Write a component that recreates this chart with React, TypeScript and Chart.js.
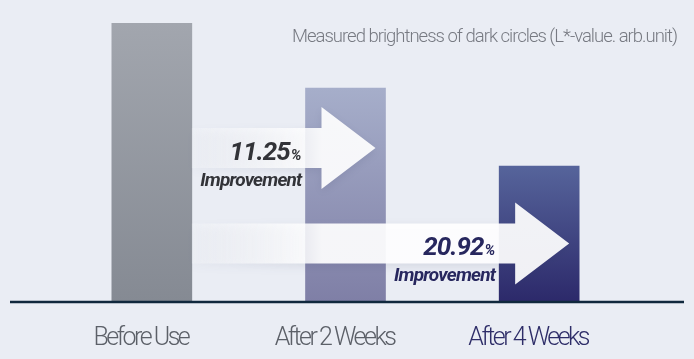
import React, { useEffect, useRef } from 'react';
import { Chart, registerables } from 'chart.js';

Chart.register(...registerables);

// ---- data ----
const categories = ['Before Use', 'After 2 Weeks', 'After 4 Weeks'];
const brightness = [100, 76.7, 48.7];
const improvementValues = ['11.25', '20.92'];
const improvementTargets = [1, 2];
const arrowLevels = [55.2, 21];
const improvementWord = 'Improvement';
const titleText = 'Measured brightness of dark circles (L*-value. arb.unit)';
const yMax = 100;

// ---- styles ----
const barTop = ['#a2a6ae', '#a6aeca', '#56649b'];
const barBottom = ['#858a93', '#7f7fa6', '#2c296a'];
const tickColors = ['#5c6068', '#5c6068', '#2e2d68'];
const numberColors = ['#323338', '#27275e'];
const bgColor = '#eaedf4';

const spacingPlugin = {
  id: 'tickSpacing',
  beforeDraw(chart: any) {
    chart.ctx.letterSpacing = '-2.5px';
  },
  beforeDatasetsDraw(chart: any) {
    chart.ctx.letterSpacing = '0px';
  },
};

const decorPlugin = {
  id: 'decor',
  afterDatasetsDraw(chart: any) {
    const ctx = chart.ctx as CanvasRenderingContext2D;
    const y = chart.scales.y;
    const meta = chart.getDatasetMeta(0);
    const base = y.getPixelForValue(0);

    // baseline
    ctx.save();
    ctx.strokeStyle = '#10283d';
    ctx.lineWidth = 2.5;
    ctx.beginPath();
    ctx.moveTo(10, base);
    ctx.lineTo(684, base);
    ctx.stroke();
    ctx.restore();

    const first = meta.data[0];
    const startX = first.x + first.width / 2;

    improvementValues.forEach((val, k) => {
      const tgt = meta.data[improvementTargets[k]];
      const headBase = tgt.x - tgt.width / 2 + 16;
      const tip = tgt.x + tgt.width / 2 - 10;
      const cy = y.getPixelForValue(arrowLevels[k]);
      const bh = 20;
      const hh = 41;

      ctx.save();
      const g = ctx.createLinearGradient(startX, 0, startX + 130, 0);
      g.addColorStop(0, 'rgba(255,255,255,0.2)');
      g.addColorStop(1, 'rgba(255,255,255,0.93)');
      ctx.fillStyle = g;
      ctx.shadowColor = 'rgba(40,50,90,0.12)';
      ctx.shadowBlur = 8;
      ctx.shadowOffsetY = 3;
      ctx.beginPath();
      ctx.moveTo(startX, cy - bh);
      ctx.lineTo(headBase, cy - bh);
      ctx.lineTo(headBase, cy - hh);
      ctx.lineTo(tip, cy);
      ctx.lineTo(headBase, cy + hh);
      ctx.lineTo(headBase, cy + bh);
      ctx.lineTo(startX, cy + bh);
      ctx.closePath();
      ctx.fill();
      ctx.restore();

      // texts
      const R = headBase - 20;
      ctx.save();
      ctx.fillStyle = numberColors[k];
      ctx.textAlign = 'right';
      ctx.textBaseline = 'alphabetic';
      ctx.letterSpacing = '0px';
      ctx.font = 'italic 700 15px Roboto';
      const wp = ctx.measureText('%').width;
      ctx.fillText('%', R, cy + 12);
      ctx.letterSpacing = '-1px';
      ctx.font = 'italic 700 26px Roboto';
      ctx.fillText(val, R - wp - 1, cy + 12);
      ctx.letterSpacing = '-0.8px';
      ctx.font = 'italic 700 19px Roboto';
      ctx.fillText(improvementWord, R, cy + 38);
      ctx.restore();
    });

    // title
    ctx.save();
    ctx.fillStyle = '#777a82';
    ctx.textAlign = 'right';
    ctx.textBaseline = 'alphabetic';
    ctx.letterSpacing = '-1px';
    ctx.font = '300 18.5px Roboto';
    ctx.fillText(titleText, 677, 42);
    ctx.restore();
  },
};

export default function App() {
  const ref = useRef<HTMLCanvasElement | null>(null);

  useEffect(() => {
    document.body.style.margin = '0';
    document.body.style.background = bgColor;
    if (!ref.current) return;
    const chart = new Chart(ref.current, {
      type: 'bar',
      data: {
        labels: categories,
        datasets: [
          {
            data: brightness,
            barThickness: 80,
            borderWidth: 0,
            backgroundColor: (c: any) => {
              const i = c.dataIndex;
              const ch = c.chart;
              if (!ch.chartArea || c.type !== 'data' || !ch.scales.y) return barBottom[i] || barBottom[0];
              const ys = ch.scales.y;
              const top = ys.getPixelForValue(brightness[i]);
              const bot = ys.getPixelForValue(0);
              const g = ch.ctx.createLinearGradient(0, top, 0, bot);
              g.addColorStop(0, barTop[i]);
              g.addColorStop(1, barBottom[i]);
              return g;
            },
          },
        ],
      },
      options: {
        animation: false,
        responsive: false,
        layout: { padding: { left: 55, right: 58, top: 23, bottom: 0 } },
        plugins: {
          legend: { display: false },
          tooltip: { enabled: false },
          title: { display: false },
        },
        scales: {
          x: {
            grid: { display: false, drawTicks: false },
            border: { display: false },
            afterFit: (s: any) => {
              s.height = 57;
            },
            ticks: {
              color: (c: any) => tickColors[c.index] || tickColors[0],
              font: { family: 'Roboto', size: 25, weight: '300' },
              padding: 22,
              labelOffset: -11,
              autoSkip: false,
              maxRotation: 0,
            },
          },
          y: { display: false, min: 0, max: yMax },
        },
      },
      plugins: [spacingPlugin, decorPlugin],
    } as any);
    return () => chart.destroy();
  }, []);

  return (
    <div style={{ width: 694, height: 359, background: bgColor }}>
      <canvas ref={ref} width={694} height={359} style={{ display: 'block' }} />
    </div>
  );
}
